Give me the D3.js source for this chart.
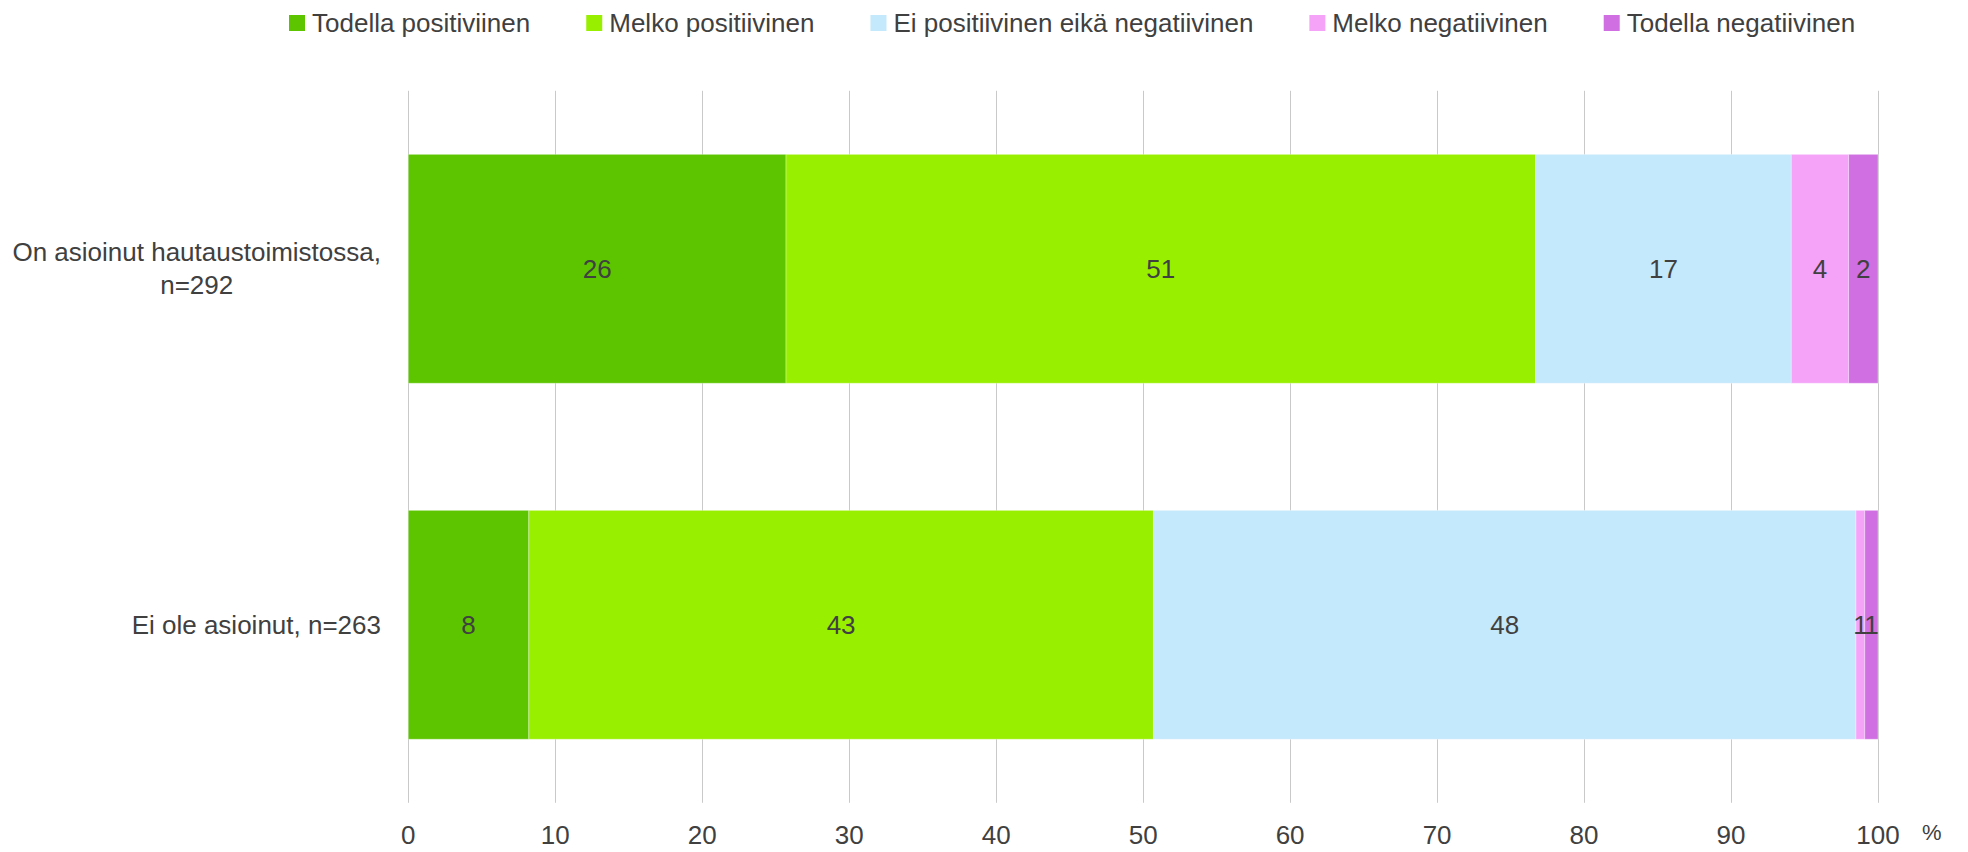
<!DOCTYPE html>
<html>
<head>
<meta charset="utf-8">
<script src="https://cdn.jsdelivr.net/npm/d3@7"></script>
<style>
    body { margin: 0; background: #fff; }
    svg { display: block; font-family: "Liberation Sans", Arial, sans-serif; }
    .grid line { stroke: #c9c9c9; stroke-width: 1; }
    text { fill: #404040; }
</style>
</head>
<body>
<script>
/* jshint esversion: 6 */

var width = 1968,
    height = 852;

// answer categories, in stacking order
var series = [
    'Todella positiviinen',
    'Melko positiivinen',
    'Ei positiivinen eikä negatiivinen',
    'Melko negatiivinen',
    'Todella negatiivinen'
];

var colors = ['#5cc500', '#99ef00', '#c4e8fc', '#f4a3f9', '#cf6fe2'];

// respondent groups, one label line per entry
var groups = [
    ['On asioinut hautaustoimistossa,', 'n=292'],
    ['Ei ole asioinut, n=263']
];

// shares in percent, per group, same order as series
var asioinut = [25.7, 51.0, 17.4, 3.9, 2.0];
var eiAsioinut = [8.2, 42.5, 47.8, 0.6, 0.9];

var xTicks = [0, 10, 20, 30, 40, 50, 60, 70, 80, 90, 100];

var values = [asioinut, eiAsioinut];

var svg = d3.select('body')
    .append('svg')
    .attr('width', width)
    .attr('height', height);

var x = d3.scaleLinear()
    .domain([0, 100])
    .range([408.3, 1878]);

var y = d3.scaleBand()
    .domain(d3.range(groups.length))
    .range([90.8, 802.8])
    .paddingInner(0.357)
    .paddingOuter(0.1785);

// vertical gridlines
svg.append('g')
    .attr('class', 'grid')
    .selectAll('line')
    .data(xTicks).enter()
    .append('line')
    .attr('x1', d => Math.round(x(d)) + 0.5)
    .attr('x2', d => Math.round(x(d)) + 0.5)
    .attr('y1', y.range()[0])
    .attr('y2', y.range()[1]);

// stack each group into segments
var rows = values.map(function(vals, gi) {
    var acc = 0;
    return vals.map(function(v, si) {
        var seg = {group: gi, series: si, x0: acc, x1: acc + v, value: v};
        acc += v;
        return seg;
    });
});

var bars = svg.append('g').attr('class', 'bars')
    .selectAll('g')
    .data(rows).enter()
    .append('g');

bars.selectAll('rect')
    .data(d => d).enter()
    .append('rect')
    .attr('x', d => x(d.x0))
    .attr('width', d => x(d.x1) - x(d.x0))
    .attr('y', d => y(d.group))
    .attr('height', y.bandwidth())
    .attr('fill', d => colors[d.series])
    .attr('stroke', '#fff')
    .attr('stroke-opacity', 0.35)
    .attr('stroke-width', 1);

// data labels
bars.selectAll('text')
    .data(d => d).enter()
    .append('text')
    .attr('x', d => (x(d.x0) + x(d.x1)) / 2)
    .attr('y', d => y(d.group) + y.bandwidth() / 2)
    .attr('dy', '0.35em')
    .attr('text-anchor', 'middle')
    .style('font-size', '26px')
    .text(d => Math.round(d.value));

// category labels, block right aligned, lines centred
var labelRight = 381;
svg.append('g').attr('class', 'categories')
    .selectAll('text')
    .data(groups).enter()
    .append('text')
    .style('font-size', '26px')
    .attr('text-anchor', 'middle')
    .each(function(lines, i) {
        var t = d3.select(this);
        var lh = 33;
        var cy = y(i) + y.bandwidth() / 2;
        lines.forEach(function(line, j) {
            t.append('tspan')
                .attr('y', cy + (j - (lines.length - 1) / 2) * lh)
                .attr('dy', '0.35em')
                .text(line);
        });
        var w = d3.max(t.selectAll('tspan').nodes(), n => n.getComputedTextLength());
        t.selectAll('tspan').attr('x', labelRight - w / 2);
    });

// x axis labels
svg.append('g').attr('class', 'ticks')
    .selectAll('text')
    .data(xTicks).enter()
    .append('text')
    .attr('x', d => x(d))
    .attr('y', 844)
    .attr('text-anchor', 'middle')
    .style('font-size', '26px')
    .text(d => d);

svg.append('text')
    .attr('x', 1922)
    .attr('y', 840)
    .style('font-size', '22px')
    .text('%');

// legend
var legend = svg.append('g').attr('class', 'legend');
var lx = 289;
series.forEach(function(name, i) {
    var item = legend.append('g').attr('transform', 'translate(' + lx + ',0)');
    item.append('rect')
        .attr('x', 0)
        .attr('y', 15)
        .attr('width', 16)
        .attr('height', 16)
        .attr('fill', colors[i]);
    var t = item.append('text')
        .attr('x', 23)
        .attr('y', 32)
        .style('font-size', '26px')
        .text(name);
    lx += 23 + t.node().getComputedTextLength() + 56;
});
</script>
</body>
</html>
